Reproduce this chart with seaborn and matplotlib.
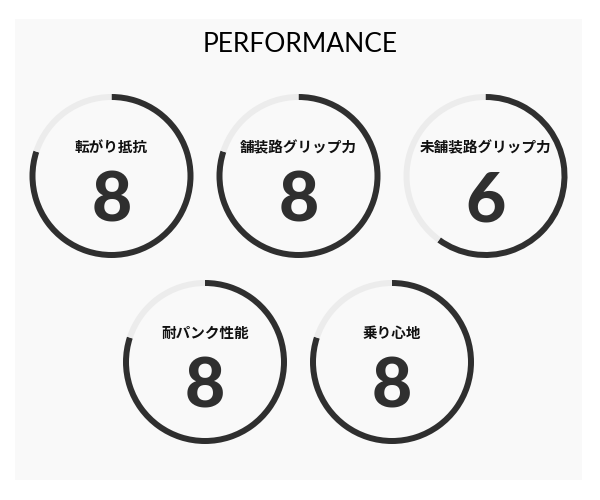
import matplotlib
matplotlib.use("Agg")
import matplotlib.pyplot as plt
from matplotlib.patches import Rectangle
import seaborn as sns

# ---- data ----
title = "PERFORMANCE"
labels = ["転がり抵抗", "舗装路グリップ力", "未舗装路グリップ力", "耐パンク性能", "乗り心地"]
scores = [8, 8, 6, 8, 8]
max_score = 10
rows = [3, 2]  # gauges per row

# ---- style ----
sns.set_theme(style="white")
plt.rcParams['font.family'] = ['Noto Sans CJK JP', 'DejaVu Sans']

DARK = "#2f2f2f"
LIGHT = "#ececec"
PANEL = "#f9f9f9"

W, H = 600, 500
fig = plt.figure(figsize=(6, 5), dpi=100)
fig.patch.set_facecolor("white")
ax = fig.add_axes([0, 0, 1, 1])
ax.set_xlim(0, W)
ax.set_ylim(0, H)
ax.set_aspect("equal")
ax.axis("off")

# panel background
ax.add_patch(Rectangle((15, H - 480), 567, 461, facecolor=PANEL, edgecolor="none", zorder=0))

ax.text(300, H - 44, title, ha="center", va="center", fontsize=19,
        family=["Lato", "DejaVu Sans"], color="black")

R = 82
RING = 6
row_y = [176, 362]
spacing = 187
cx0 = 298.5

idx = 0
for r, n in enumerate(rows):
    for j in range(n):
        if idx >= len(labels):
            break
        x = cx0 + (j - (n - 1) / 2) * spacing
        y = H - row_y[r]
        s = scores[idx]
        ax.pie([s, max_score - s], colors=[DARK, LIGHT], startangle=90,
               counterclock=False, radius=R, center=(x, y),
               wedgeprops=dict(width=RING, linewidth=0), frame=True)
        ax.text(x, y + 29, labels[idx], ha="center", va="center",
                fontsize=10.5, fontweight="bold", color="#111111")
        ax.text(x, y - 26, str(s), ha="center", va="center",
                fontsize=50, fontweight=900, family=["Lato", "DejaVu Sans"],
                color=DARK)
        idx += 1

ax.set_xlim(0, W)
ax.set_ylim(0, H)
ax.axis("off")
fig.savefig("out.png", dpi=100, facecolor="white")
